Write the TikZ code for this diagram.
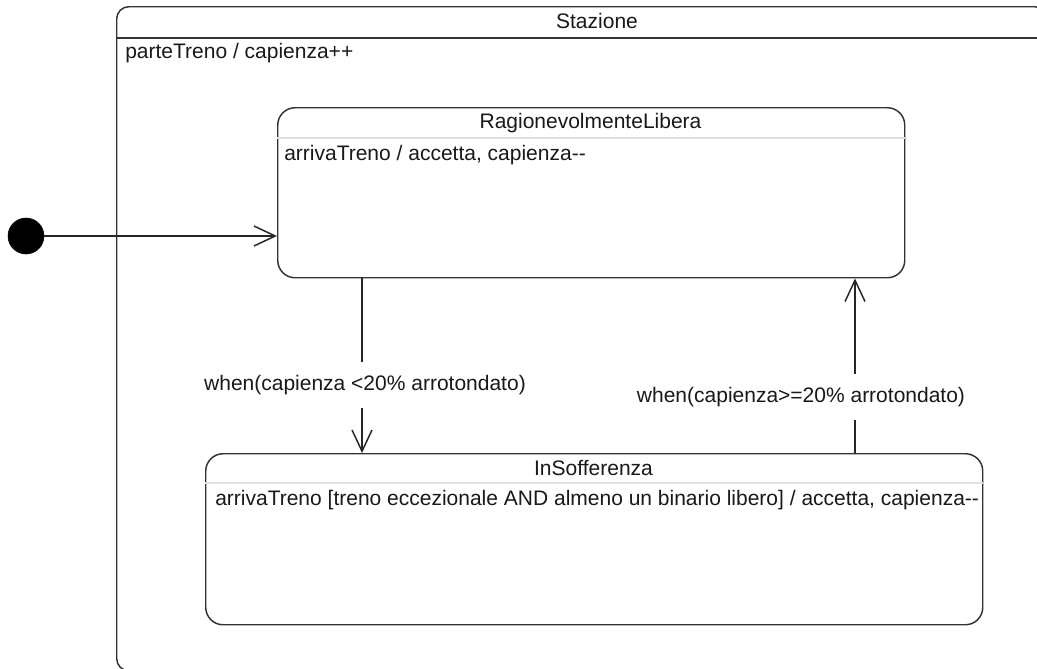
\documentclass[tikz,border=0pt]{standalone}
\usepackage{fontspec}
\setmainfont{Liberation Sans}
\usetikzlibrary{arrows.meta}
\begin{document}
\begin{tikzpicture}[x=0.75pt,y=-0.75pt,
  txt/.style={font=\fontsize{15.75}{18}\selectfont, inner sep=0pt, text=black!90},
  statebox/.style={draw=black!80, line width=1.1pt, anchor=north west, inner sep=0pt},
  lightsep/.style={draw=black!12, line width=0.8pt},
  darksep/.style={draw=black!80, line width=1.1pt},
  arr/.style={draw=black!85, line width=1.1pt, -{Straight Barb[length=16pt,width=15pt]}},
  lbl/.style={txt, fill=white, inner xsep=2pt, inner ysep=10pt}]
\useasboundingbox (0,0) rectangle (1037,668);
\clip (0,0) rectangle (1037,668);
\fill[white] (0,0) rectangle (1037,668);

% outer composite state
\node[statebox, rounded corners=9pt, minimum width=697.5pt, minimum height=498pt] (st) at (116,6) {};
\coordinate (sh) at (0,38);
\draw[darksep] (st.west |- sh) -- (st.east |- sh);
\node[txt] (sttitle) at (597,21) {Stazione};
\node[txt, anchor=west] (stint) at (125,53) {parteTreno / capienza++};

% RagionevolmenteLibera
\node[statebox, rounded corners=13pt, minimum width=470.25pt, minimum height=127.5pt] (rl) at (277,107) {};
\coordinate (rlh) at (0,138);
\draw[lightsep] (rl.west |- rlh) -- (rl.east |- rlh);
\node[txt] (rltitle) at (590.5,123) {RagionevolmenteLibera};
\node[txt, anchor=west] (rlint) at (284,155) {arrivaTreno / accetta, capienza-{}-};

% InSofferenza
\node[statebox, rounded corners=13pt, minimum width=582.75pt, minimum height=128.25pt] (is) at (205,453) {};
\coordinate (ish) at (0,483);
\draw[lightsep] (is.west |- ish) -- (is.east |- ish);
\node[txt] (istitle) at (593.5,468) {InSofferenza};
\node[txt, anchor=west] (isint) at (215,500) {arrivaTreno [treno eccezionale AND almeno un binario libero] / accetta, capienza-{}-};

% initial pseudostate
\node[circle, fill=black, draw=black, minimum size=27pt, inner sep=0pt] (init) at (26,236) {};

% transitions
\draw[arr] (init.east) -- (init -| rl.west);
\coordinate (dx) at (362,0);
\coordinate (ux) at (855,0);
\draw[arr] (rl.south -| dx) -- (is.north -| dx);
\draw[arr] (is.north -| ux) -- (rl.south -| ux);
\node[lbl] (l1) at (365,385) {when(capienza <20\% arrotondato)};
\node[lbl] (l2) at (801,397) {when(capienza>=20\% arrotondato)};
\end{tikzpicture}
\end{document}
